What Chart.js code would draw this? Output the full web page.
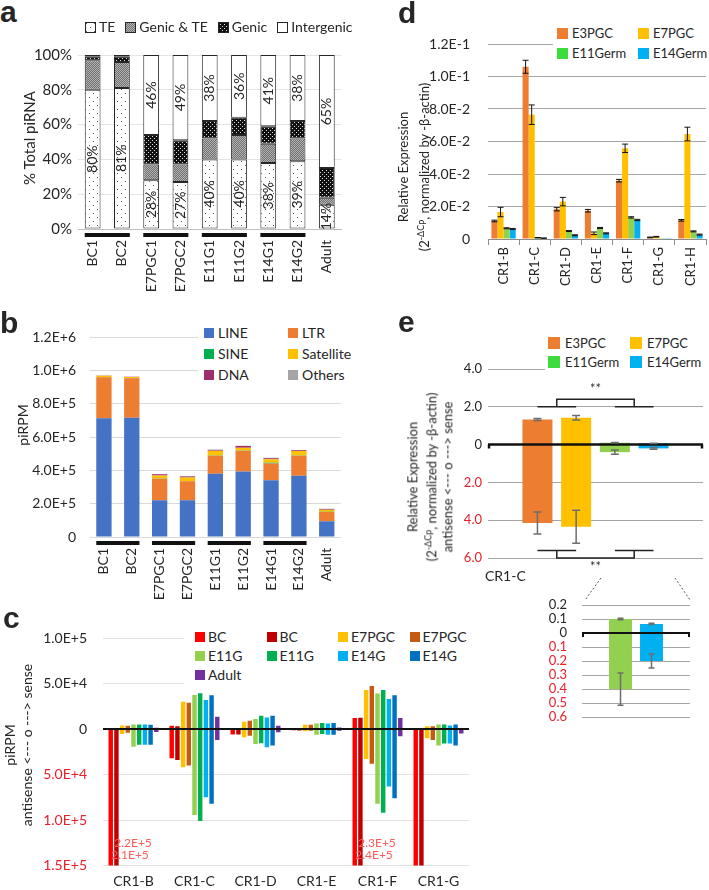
<!DOCTYPE html>
<html>
<head>
<meta charset="utf-8">
<script src="https://cdn.jsdelivr.net/npm/chart.js@4.4.1/dist/chart.umd.min.js"></script>
<style>
  body { margin: 0; background: #fff; font-family: Lato, "Noto Sans", sans-serif; color: #262626; }
  #page { position: relative; width: 709px; height: 890px; overflow: hidden; }
  canvas { position: absolute; }
  .tag { position: absolute; font: bold 30px "Liberation Sans", Arial, sans-serif; line-height: 30px; }
  .ttl { position: absolute; white-space: nowrap; text-align: center; transform: translate(-50%, -50%) rotate(-90deg); font-size: 14px; line-height: 17px; }
  .ttl sup { font-size: 9px; }
  .lg { position: absolute; background: #fff; display: grid; box-sizing: border-box; }
  .lg .it { display: flex; align-items: center; white-space: nowrap; }
  .lg i { display: inline-block; flex: none; }
  .plain { position: absolute; font-size: 14px; line-height: 18px; white-space: nowrap; }
</style>
</head>
<body>
<div id="page">
  <div class="tag" style="left:0;top:-3px">a</div>
  <div class="tag" style="left:0;top:308px">b</div>
  <div class="tag" style="left:3px;top:603px">c</div>
  <div class="tag" style="left:398px;top:-2px">d</div>
  <div class="tag" style="left:398px;top:307px">e</div>

  <div class="ttl" style="left:29px;top:138px;font-size:15px">% Total piRNA</div>
  <div class="ttl" style="left:22px;top:425px">piRPM</div>
  <div class="ttl" style="left:18px;top:745px">piRPM<br>antisense &lt;--- o ---&gt; sense</div>
  <div class="ttl" style="left:414px;top:167px;font-size:13px;line-height:17px">Relative Expression<br>(2<sup>-ΔCp</sup>, normalized by -β-actin)</div>
  <div class="ttl" style="left:430px;top:477px;font-size:13px;line-height:16px">Relative Expression<br>(2<sup>-ΔCp</sup>, normalized by -β-actin)<br>antisense &lt;--- o ---&gt; sense</div>
  <div class="plain" style="left:485px;top:567px">CR1-C</div>

  <svg style="position:absolute;left:0;top:0;pointer-events:none" width="709" height="890">
    <line x1="601" y1="578" x2="585" y2="600" stroke="#555" stroke-dasharray="2,2"/>
    <line x1="675" y1="578" x2="690" y2="600" stroke="#555" stroke-dasharray="2,2"/>
  </svg>
</div>

<script>
// ---------------- data ----------------
// a: share of total piRNA (%)
const aCategories = ['BC1', 'BC2', 'E7PGC1', 'E7PGC2', 'E11G1', 'E11G2', 'E14G1', 'E14G2', 'Adult'];
const aSeries = ['TE', 'Genic & TE', 'Genic', 'Intergenic'];
const aTE = [80, 81, 28, 27, 40, 40, 38, 39, 14];
const aGenicTE = [17, 15, 9, 10, 12, 14, 11, 13, 4];
const aGenic = [2, 3, 17, 14, 10, 10, 10, 10, 17];
const aIntergenic = [1, 1, 46, 49, 38, 36, 41, 38, 65];
const groupPairs = [[0, 1], [2, 3], [4, 5], [6, 7]];

// b: piRPM by repeat class
const bSeries = ['LINE', 'LTR', 'SINE', 'Satellite', 'DNA', 'Others'];
const bColors = ['#4472C4', '#ED7D31', '#00B050', '#FFC000', '#9E2F6E', '#A5A5A5'];
const bLINE = [712000, 716000, 220000, 220000, 379000, 393000, 341000, 367000, 94000];
const bLTR = [247000, 237000, 129000, 115000, 108000, 124000, 100000, 120000, 56000];
const bSINE = [1000, 1000, 1500, 1500, 2500, 2500, 5000, 2500, 1500];
const bSatellite = [8000, 6000, 18000, 20000, 28000, 16000, 20000, 26000, 12000];
const bDNA = [1000, 1000, 8000, 7000, 5000, 10000, 7000, 5000, 4000];
const bOthers = [500, 500, 2000, 2000, 2000, 2000, 2000, 2000, 2000];

// c: sense (up) / antisense (down) piRPM per CR1 subfamily
const cCategories = ['CR1-B', 'CR1-C', 'CR1-D', 'CR1-E', 'CR1-F', 'CR1-G'];
const cSeries = ['BC', 'BC', 'E7PGC', 'E7PGC', 'E11G', 'E11G', 'E14G', 'E14G', 'Adult'];
const cColors = ['#FF0000', '#C00000', '#FFC000', '#C55A11', '#92D050', '#00B050', '#00B0F0', '#0070C0', '#7030A0'];
const cSense = [
  [0, 3600, 1000, 500, 12000, 0],
  [0, 3000, 1000, 500, 12500, 0],
  [4000, 30000, 8000, 4700, 43000, 3000],
  [3600, 29000, 9000, 4700, 50000, 3000],
  [5000, 37500, 11000, 6200, 39000, 5000],
  [5000, 39300, 14500, 6500, 43000, 5000],
  [5000, 32000, 12700, 6200, 33000, 4000],
  [4700, 37000, 14500, 6500, 37000, 5000],
  [1500, 13500, 3600, 1800, 12000, 1000]
];
const cAntisense = [
  [220000, 32000, 6000, 1200, 230000, 170000],
  [210000, 34000, 6000, 1500, 240000, 165000],
  [5500, 42000, 9000, 2500, 33000, 10000],
  [4000, 40000, 7300, 1800, 38000, 12000],
  [19500, 94500, 16400, 6200, 82000, 18000],
  [17200, 101000, 15600, 5500, 92000, 16000],
  [17200, 75000, 20000, 6200, 63000, 16000],
  [17200, 82000, 18000, 6200, 76000, 18000],
  [3300, 12000, 3600, 1800, 8000, 5000]
];

// d: qPCR relative expression
const dCategories = ['CR1-B', 'CR1-C', 'CR1-D', 'CR1-E', 'CR1-F', 'CR1-G', 'CR1-H'];
const dSeries = ['E3PGC', 'E7PGC', 'E11Germ', 'E14Germ'];
const dColors = ['#ED7D31', '#FFC000', '#92D050', '#00B0F0'];
const dLegendColors = ['#ED7D31', '#FFC000', '#3DDC3D', '#00B0F0'];
const dE3PGC = [0.0111, 0.106, 0.0183, 0.0174, 0.0359, 0.0010, 0.0115];
const dE7PGC = [0.0166, 0.0765, 0.0230, 0.0035, 0.0558, 0.0014, 0.0646];
const dE11Germ = [0.0066, 0.0008, 0.0049, 0.0068, 0.0133, 0.0001, 0.0047];
const dE14Germ = [0.0062, 0.0005, 0.0023, 0.0035, 0.0117, 0.0001, 0.0027];
const dE3PGCErr = [0.0005, 0.004, 0.001, 0.0008, 0.0008, 0.0002, 0.0005];
const dE7PGCErr = [0.0029, 0.006, 0.0026, 0.0008, 0.0026, 0.0002, 0.0042];
const dE11GermErr = [0.0003, 0.0001, 0.0003, 0.0003, 0.0004, 0, 0.0003];
const dE14GermErr = [0.0003, 0.0001, 0.0003, 0.0003, 0.0004, 0, 0.0003];

// e: strand-specific qPCR of CR1-C
const eCategories = ['CR1-C'];
const eSeries = ['E3PGC', 'E7PGC', 'E11Germ', 'E14Germ'];
const eSense = [1.33, 1.42, 0.10, 0.065];
const eSenseErr = [0.05, 0.12, 0.006, 0.004];
const eAntisense = [4.15, 4.35, 0.40, 0.20];
const eAntisenseErr = [0.58, 0.87, 0.115, 0.05];
const eBracketUp = [2.0, 2.4];
const eBracketDown = [-5.6, -6.0];

// ---------------- helpers ----------------
Chart.defaults.font.family = 'Lato, "Noto Sans", sans-serif';
Chart.defaults.font.size = 14;
Chart.defaults.color = '#262626';
Chart.defaults.animation = false;
Chart.defaults.plugins.legend.display = false;
Chart.defaults.plugins.tooltip.enabled = false;

const RED = '#E8202A';
const page = document.getElementById('page');

function addCanvas(left, top, w, h) {
  const c = document.createElement('canvas');
  c.width = w;
  c.height = h;
  Object.assign(c.style, { left: left + 'px', top: top + 'px', width: w + 'px', height: h + 'px' });
  page.insertBefore(c, page.firstChild);
  return c;
}

const fixWidth = (w) => (scale) => { scale.width = w; };
const fixHeight = (h) => (scale) => { scale.height = h; };
const sci = (v) => (Math.abs(v) < 1e-12 ? '0' : Math.abs(v).toExponential(1).toUpperCase());
const signColor = (c) => (c.tick && c.tick.value < -1e-9 ? RED : '#262626');

// fill patterns for panel a
function makePattern(ctx, kind) {
  const t = document.createElement('canvas');
  const g = t.getContext('2d');
  if (kind === 'te') {
    t.width = t.height = 8;
    g.fillStyle = '#fff'; g.fillRect(0, 0, 8, 8);
    g.fillStyle = '#555'; g.fillRect(1, 1, 1, 1); g.fillRect(5, 5, 1, 1);
  } else if (kind === 'gt') {
    t.width = t.height = 2;
    g.fillStyle = '#6f6f6f'; g.fillRect(0, 0, 2, 2);
    g.fillStyle = '#b3b3b3'; g.fillRect(0, 0, 1, 1); g.fillRect(1, 1, 1, 1);
  } else if (kind === 'g') {
    t.width = t.height = 4;
    g.fillStyle = '#111'; g.fillRect(0, 0, 4, 4);
    g.fillStyle = '#ddd'; g.fillRect(0, 0, 1, 1); g.fillRect(2, 2, 1, 1);
  } else {
    t.width = t.height = 1;
    g.fillStyle = '#fff'; g.fillRect(0, 0, 1, 1);
  }
  return ctx.createPattern(t, 'repeat');
}

// black bars under paired samples
function underline(pairs) {
  return {
    id: 'underline',
    afterDraw(chart) {
      const els = chart.getDatasetMeta(0).data;
      const y = chart.chartArea.bottom + 6;
      const ctx = chart.ctx;
      ctx.save();
      ctx.fillStyle = '#111';
      pairs.forEach(([p, q]) => {
        const l = els[p].x - els[p].width / 2;
        const r = els[q].x + els[q].width / 2;
        ctx.fillRect(l, y - 2, r - l, 4);
      });
      ctx.restore();
    }
  };
}

// thick zero line, optional end ticks
function zeroLine(width, ends) {
  return {
    id: 'zeroLine',
    afterDatasetsDraw(chart) {
      const { ctx, chartArea: a } = chart;
      const y = chart.scales.y.getPixelForValue(0);
      ctx.save();
      ctx.strokeStyle = '#111';
      ctx.lineWidth = width;
      ctx.beginPath();
      ctx.moveTo(a.left, y);
      ctx.lineTo(a.right, y);
      if (ends) {
        ctx.moveTo(a.left + 1, y); ctx.lineTo(a.left + 1, y + ends);
        ctx.moveTo(a.right - 1, y); ctx.lineTo(a.right - 1, y + ends);
      }
      ctx.stroke();
      ctx.restore();
    }
  };
}

// error bars: sets = [[datasetIndex, values, errors], ...]
function errorBars(sets, color, lw, cap) {
  return {
    id: 'errorBars',
    afterDatasetsDraw(chart) {
      const ctx = chart.ctx;
      const ys = chart.scales.y;
      ctx.save();
      ctx.strokeStyle = color;
      ctx.lineWidth = lw;
      ctx.beginPath();
      sets.forEach(([di, vals, errs]) => {
        chart.getDatasetMeta(di).data.forEach((el, i) => {
          if (!errs[i]) return;
          const t = ys.getPixelForValue(vals[i] + errs[i]);
          const b = ys.getPixelForValue(vals[i] - errs[i]);
          ctx.moveTo(el.x, t); ctx.lineTo(el.x, b);
          ctx.moveTo(el.x - cap, t); ctx.lineTo(el.x + cap, t);
          ctx.moveTo(el.x - cap, b); ctx.lineTo(el.x + cap, b);
        });
      });
      ctx.stroke();
      ctx.restore();
    }
  };
}

function legend(o) {
  const d = document.createElement('div');
  d.className = 'lg';
  Object.assign(d.style, {
    left: o.left + 'px', top: o.top + 'px', width: o.width + 'px', height: o.height + 'px',
    gridTemplateColumns: `repeat(${o.cols}, ${o.colW}px)`, gridAutoRows: o.rowH + 'px',
    fontSize: o.font + 'px', paddingLeft: o.pad + 'px'
  });
  o.names.forEach((n, k) => {
    const it = document.createElement('span');
    it.className = 'it';
    const sq = document.createElement('i');
    Object.assign(sq.style, { background: o.colors[k], width: o.box + 'px', height: o.box + 'px', marginRight: o.gap + 'px' });
    it.appendChild(sq);
    it.appendChild(document.createTextNode(n));
    d.appendChild(it);
  });
  page.appendChild(d);
}

// ---------------- panel a ----------------
const canvasA = addCanvas(0, 40, 355, 260);
const ctxA = canvasA.getContext('2d');
const aPatterns = ['te', 'gt', 'g', 'w'].map((k) => makePattern(ctxA, k));
const aValues = [aTE, aGenicTE, aGenic, aIntergenic];

const aLabels = {
  id: 'aLabels',
  afterDatasetsDraw(chart) {
    const ctx = chart.ctx;
    ctx.save();
    ctx.font = '14px Lato';
    ctx.fillStyle = '#262626';
    ctx.textAlign = 'center';
    ctx.textBaseline = 'middle';
    const put = (el, txt) => {
      ctx.save();
      ctx.translate(el.x, (el.y + el.base) / 2);
      ctx.rotate(-Math.PI / 2);
      ctx.fillText(txt, 0, 0);
      ctx.restore();
    };
    chart.getDatasetMeta(0).data.forEach((el, i) => put(el, aTE[i] + '%'));
    chart.getDatasetMeta(3).data.forEach((el, i) => { if (aIntergenic[i] >= 30) put(el, aIntergenic[i] + '%'); });
    ctx.restore();
  }
};

new Chart(canvasA, {
  type: 'bar',
  data: {
    labels: aCategories,
    datasets: aSeries.map((name, k) => ({
      label: name, data: aValues[k], backgroundColor: aPatterns[k],
      borderColor: '#262626', borderWidth: 1, borderSkipped: false,
      barPercentage: 0.54, categoryPercentage: 1
    }))
  },
  options: {
    responsive: false,
    layout: { padding: { top: 10, right: 7, left: 0, bottom: 0 } },
    scales: {
      x: {
        stacked: true,
        grid: { display: false, drawTicks: false },
        border: { color: '#bfbfbf' },
        ticks: { minRotation: 90, maxRotation: 90, padding: 11, autoSkip: false },
        afterFit: fixHeight(71)
      },
      y: {
        stacked: true, min: 0, max: 100,
        grid: { color: '#e4e4e4', drawTicks: false },
        border: { display: false },
        ticks: { stepSize: 20, padding: 6, autoSkip: false, font: { size: 15 }, callback: (v) => v + '%' },
        afterFit: fixWidth(78)
      }
    }
  },
  plugins: [underline(groupPairs), aLabels]
});

// legend a with pattern swatches
(function () {
  const d = document.createElement('div');
  Object.assign(d.style, { position: 'absolute', left: '85px', top: '18px', display: 'flex', gap: '10px', fontSize: '14px', lineHeight: '18px' });
  aSeries.forEach((n, k) => {
    const it = document.createElement('span');
    it.style.display = 'flex';
    it.style.alignItems = 'center';
    const sw = document.createElement('canvas');
    sw.width = sw.height = 11;
    Object.assign(sw.style, { position: 'static', marginRight: '3px' });
    const g = sw.getContext('2d');
    g.fillStyle = makePattern(g, ['te', 'gt', 'g', 'w'][k]);
    g.fillRect(0, 0, 11, 11);
    g.strokeStyle = '#262626';
    g.strokeRect(0.5, 0.5, 10, 10);
    it.appendChild(sw);
    it.appendChild(document.createTextNode(n));
    d.appendChild(it);
  });
  page.appendChild(d);
})();

// ---------------- panel b ----------------
const bValues = [bLINE, bLTR, bSINE, bSatellite, bDNA, bOthers];
new Chart(addCanvas(0, 300, 355, 300), {
  type: 'bar',
  data: {
    labels: aCategories,
    datasets: bSeries.map((name, k) => ({
      label: name, data: bValues[k], backgroundColor: bColors[k],
      barPercentage: 0.55, categoryPercentage: 1
    }))
  },
  options: {
    responsive: false,
    layout: { padding: { top: 37, right: 8, left: 0, bottom: 0 } },
    scales: {
      x: {
        stacked: true,
        grid: { display: false, drawTicks: false },
        border: { color: '#d9d9d9' },
        ticks: { minRotation: 90, maxRotation: 90, padding: 11, autoSkip: false },
        afterFit: fixHeight(63)
      },
      y: {
        stacked: true, min: 0, max: 1200000,
        grid: { color: '#d9d9d9', drawTicks: false },
        border: { display: false },
        ticks: { stepSize: 200000, padding: 14, autoSkip: false, callback: sci },
        afterFit: fixWidth(90)
      }
    }
  },
  plugins: [underline(groupPairs)]
});

legend({ left: 198, top: 322, width: 155, height: 64, cols: 2, colW: 84, rowH: 21, pad: 6,
  font: 14, box: 10, gap: 4, names: bSeries, colors: bColors });

// ---------------- panel c ----------------
const cClipLabels = {
  id: 'cClipLabels',
  afterDatasetsDraw(chart) {
    const ctx = chart.ctx;
    const ys = chart.scales.y;
    const bottom = chart.chartArea.bottom;
    const m1 = chart.getDatasetMeta(1).data;
    ctx.save();
    ctx.font = '12px Lato';
    ctx.fillStyle = '#FF5A5A';
    ctx.textAlign = 'left';
    ctx.textBaseline = 'middle';
    cCategories.forEach((_, i) => {
      if (-cAntisense[0][i] < ys.min - 50000) {
        const x = m1[i].x - m1[i].width / 2;
        ctx.fillText(sci(cAntisense[0][i]), x, bottom - 22);
        ctx.fillText(sci(cAntisense[1][i]), x - 3, bottom - 10);
      }
    });
    ctx.restore();
  }
};

new Chart(addCanvas(0, 600, 480, 290), {
  type: 'bar',
  data: {
    labels: cCategories,
    datasets: cSeries.map((name, k) => ({
      label: name,
      data: cCategories.map((_, i) => [-cAntisense[k][i], cSense[k][i]]),
      backgroundColor: cColors[k], clip: 0,
      categoryPercentage: 0.84, barPercentage: 0.78
    }))
  },
  options: {
    responsive: false,
    layout: { padding: { top: 38, right: 11, left: 0, bottom: 0 } },
    scales: {
      x: {
        grid: { display: false, drawTicks: false },
        border: { display: false },
        ticks: { padding: 7 },
        afterFit: fixHeight(22)
      },
      y: {
        min: -150000, max: 100000,
        grid: { color: '#e2e2e2', drawTicks: false },
        border: { display: false },
        ticks: { stepSize: 50000, padding: 16, autoSkip: false, callback: sci, color: signColor },
        afterFit: fixWidth(103)
      }
    }
  },
  plugins: [zeroLine(2, 0), cClipLabels]
});

legend({ left: 184, top: 627, width: 296, height: 59, cols: 4, colW: 71.5, rowH: 19, pad: 11,
  font: 14, box: 10, gap: 3, names: cSeries, colors: cColors });

// ---------------- panel d ----------------
const dValues = [dE3PGC, dE7PGC, dE11Germ, dE14Germ];
const dErrors = [dE3PGCErr, dE7PGCErr, dE11GermErr, dE14GermErr];
new Chart(addCanvas(355, 0, 354, 300), {
  type: 'bar',
  data: {
    labels: dCategories,
    datasets: dSeries.map((name, k) => ({
      label: name, data: dValues[k], backgroundColor: dColors[k],
      categoryPercentage: 0.78, barPercentage: 1
    }))
  },
  options: {
    responsive: false,
    layout: { padding: { top: 44, right: 3, left: 0, bottom: 0 } },
    scales: {
      x: {
        grid: { drawOnChartArea: false, drawTicks: true, tickLength: 6, color: '#8c8c8c' },
        border: { color: '#8c8c8c' },
        ticks: { minRotation: 90, maxRotation: 90, padding: 2, autoSkip: false, font: { size: 13 } },
        afterFit: fixHeight(61)
      },
      y: {
        min: 0, max: 0.12,
        grid: { color: '#a6a6a6', drawTicks: false },
        border: { display: false },
        ticks: { stepSize: 0.02, padding: 18, autoSkip: false, callback: sci },
        afterFit: fixWidth(133)
      }
    }
  },
  plugins: [errorBars(dValues.map((v, k) => [k, v, dErrors[k]]), '#111', 1, 3)]
});

legend({ left: 553, top: 23, width: 156, height: 40, cols: 2, colW: 81, rowH: 20, pad: 4,
  font: 13, box: 11, gap: 4, names: dSeries, colors: dLegendColors });

// ---------------- panel e ----------------
const eBrackets = {
  id: 'eBrackets',
  afterDatasetsDraw(chart) {
    const ctx = chart.ctx;
    const ys = chart.scales.y;
    const xs = eSeries.map((_, k) => chart.getDatasetMeta(k).data[0].x);
    const g1 = (xs[0] + xs[1]) / 2;
    const g2 = (xs[2] + xs[3]) / 2;
    const hw = (xs[1] - xs[0]) / 2;
    ctx.save();
    ctx.strokeStyle = '#222';
    ctx.lineWidth = 1.5;
    ctx.beginPath();
    [eBracketUp, eBracketDown].forEach(([foot, bar]) => {
      const yf = ys.getPixelForValue(foot);
      const yb = ys.getPixelForValue(bar);
      [g1, g2].forEach((g) => { ctx.moveTo(g - hw, yf); ctx.lineTo(g + hw, yf); });
      ctx.moveTo(g1, yf); ctx.lineTo(g1, yb); ctx.lineTo(g2, yb); ctx.lineTo(g2, yf);
    });
    ctx.stroke();
    ctx.fillStyle = '#333';
    ctx.font = '13px Lato';
    ctx.textAlign = 'center';
    ctx.textBaseline = 'middle';
    ctx.fillText('**', (g1 + g2) / 2, ys.getPixelForValue(eBracketUp[1]) - 10);
    ctx.fillText('**', (g1 + g2) / 2, ys.getPixelForValue(eBracketDown[1]) + 9);
    ctx.restore();
  }
};

const eErrSets = [];
eSeries.forEach((_, k) => {
  eErrSets.push([k, [eSense[k]], [eSenseErr[k]]]);
  eErrSets.push([k, [-eAntisense[k]], [eAntisenseErr[k]]]);
});

new Chart(addCanvas(355, 300, 354, 290), {
  type: 'bar',
  data: {
    labels: eCategories,
    datasets: eSeries.map((name, k) => ({
      label: name, data: [[-eAntisense[k], eSense[k]]], backgroundColor: dColors[k],
      categoryPercentage: 0.72, barPercentage: 0.775
    }))
  },
  options: {
    responsive: false,
    layout: { padding: { top: 69, right: 6, left: 0, bottom: 32 } },
    scales: {
      x: { display: false },
      y: {
        min: -6, max: 4,
        grid: { color: '#a6a6a6', drawTicks: false },
        border: { display: false },
        ticks: {
          stepSize: 2, padding: 6, autoSkip: false, font: { size: 13 }, color: signColor,
          callback: (v) => (Math.abs(v) < 1e-9 ? '0' : Math.abs(v).toFixed(1))
        },
        afterFit: fixWidth(133)
      }
    }
  },
  plugins: [zeroLine(2.5, 4), errorBars(eErrSets, '#6e6e6e', 1.5, 4), eBrackets]
});

legend({ left: 545, top: 333, width: 160, height: 40, cols: 2, colW: 82, rowH: 19, pad: 3,
  font: 13, box: 12, gap: 5, names: eSeries, colors: dLegendColors });

// ---------------- panel e inset (E11Germ / E14Germ zoom) ----------------
const insetIdx = [2, 3];
const insetErrSets = [];
insetIdx.forEach((k, j) => {
  insetErrSets.push([j, [eSense[k]], [eSenseErr[k]]]);
  insetErrSets.push([j, [-eAntisense[k]], [eAntisenseErr[k]]]);
});

new Chart(addCanvas(500, 580, 209, 160), {
  type: 'bar',
  data: {
    labels: eCategories,
    datasets: insetIdx.map((k) => ({
      label: eSeries[k], data: [[-eAntisense[k], eSense[k]]], backgroundColor: dColors[k],
      categoryPercentage: 0.574, barPercentage: 0.74
    }))
  },
  options: {
    responsive: false,
    layout: { padding: { top: 25, right: 19, left: 0, bottom: 15 } },
    scales: {
      x: { display: false },
      y: {
        min: -0.6, max: 0.2,
        grid: { color: '#a6a6a6', drawTicks: false },
        border: { display: false },
        ticks: {
          stepSize: 0.1, padding: 15, autoSkip: false, font: { size: 13 }, color: signColor,
          callback: (v) => (Math.abs(v) < 1e-9 ? '0' : Math.abs(v).toFixed(1))
        },
        afterFit: fixWidth(82)
      }
    }
  },
  plugins: [zeroLine(2, 4), errorBars(insetErrSets, '#6e6e6e', 1.5, 3)]
});
</script>
</body>
</html>
